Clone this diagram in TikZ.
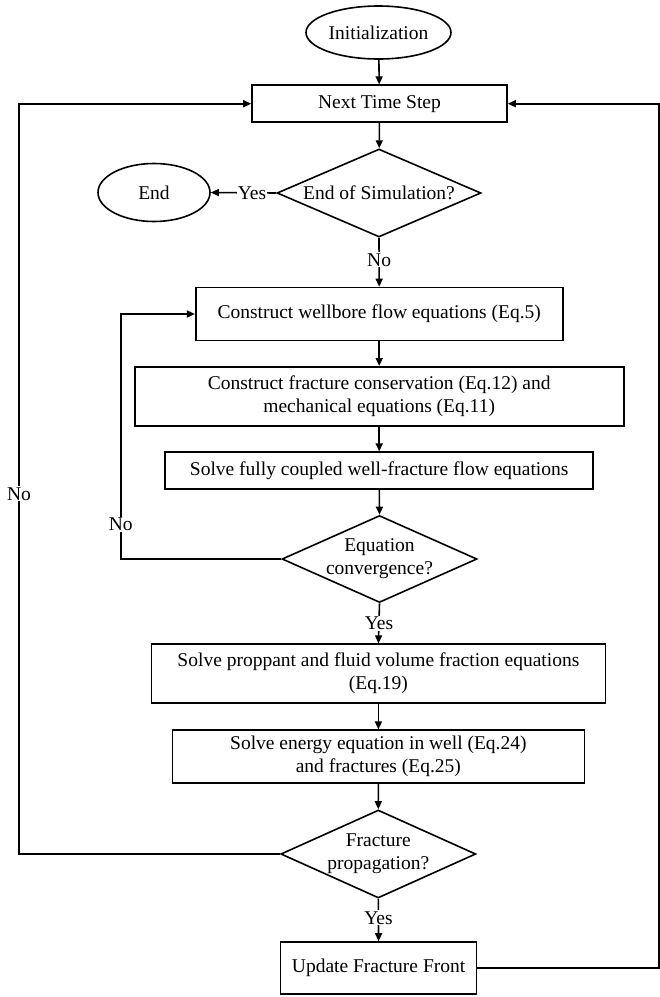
\documentclass[tikz,border=0pt]{standalone}
\usepackage{fontspec}
\setmainfont{Liberation Serif}
\usetikzlibrary{shapes.geometric,arrows.meta}
\begin{document}
\begin{tikzpicture}[x=1pt,y=-1pt,
  every node/.style={font=\fontsize{19.5}{23}\selectfont},
  box/.style={draw,line width=1.6pt,rectangle,inner sep=0pt,align=center},
  oval/.style={draw,line width=1.6pt,ellipse,inner sep=0pt,minimum width=145pt,minimum height=53pt},
  dia/.style={draw,line width=1.6pt,diamond,inner sep=0pt},
  lbl/.style={fill=white,inner sep=1pt},
  conn/.style={line width=1.6pt,-{Triangle[length=8pt,width=7pt]}}]
\useasboundingbox (0,0) rectangle (660,997);
\node[oval] (init) at (378.5,32.5) {Initialization};
\node[box,minimum width=255pt,minimum height=37pt] (nts) at (379.5,103.7) {Next Time Step};
\node[dia,minimum width=204pt,minimum height=88pt] (d1) at (379,193) {};
\node (d1t) at (379,193) {End of Simulation?};
\node[oval,minimum width=112pt,minimum height=58pt] (endE) at (154,192.5) {End};
\node[box,minimum width=367pt,minimum height=53pt] (wb) at (379.2,314) {Construct wellbore flow equations (Eq.5)};
\node[box,minimum width=489pt,minimum height=59pt] (fc) at (379.2,396.3) {Construct fracture conservation (Eq.12) and\\mechanical equations (Eq.11)};
\node[box,minimum width=428pt,minimum height=37pt] (sf) at (379.2,470.7) {Solve fully coupled well-fracture flow equations};
\node[dia,minimum width=195pt,minimum height=87pt] (d2) at (379.5,559) {};
\node[align=center] (d2t) at (379.5,559) {Equation\\convergence?};
\node[box,minimum width=454pt,minimum height=59pt] (pp) at (378.4,673.7) {Solve proppant and fluid volume fraction equations\\(Eq.19)};
\node[box,minimum width=412pt,minimum height=53pt] (en) at (378.4,756.7) {Solve energy equation in well (Eq.24)\\and fractures (Eq.25)};
\node[dia,minimum width=195pt,minimum height=88pt] (d3) at (378.3,854) {};
\node[align=center] (d3t) at (378.3,854) {Fracture\\propagation?};
\node[box,minimum width=196pt,minimum height=52pt] (uf) at (378.6,968) {Update Fracture Front};
\coordinate (l2a) at (120.8,559);
\coordinate (l2b) at (120.8,314);
\coordinate (l3a) at (19,854);
\coordinate (l3b) at (19,103.7);
\coordinate (r1a) at (659,968);
\coordinate (r1b) at (659,103.7);
\draw[conn] (init) -- (nts);
\draw[conn] (nts) -- (d1);
\draw[conn] (d1.west) -- node[lbl,pos=0.37] (y1) {Yes} (endE.east);
\draw[conn] (d1.south) -- node[lbl,pos=0.45] (n1) {No} (wb.north);
\draw[conn] (wb) -- (fc);
\draw[conn] (fc) -- (sf);
\draw[conn] (sf) -- (d2.north);
\draw[conn] (d2.west) -- (l2a) -- node[lbl,pos=0.14] (n2) {No} (l2b) -- (wb.west);
\draw[conn] (d2.south) -- node[lbl,pos=0.5] (y2) {Yes} (pp.north);
\draw[conn] (pp) -- (en);
\draw[conn] (en) -- (d3.north);
\draw[conn] (d3.west) -- (l3a) -- node[lbl,pos=0.48] (n3) {No} (l3b) -- (nts.west);
\draw[conn] (d3.south) -- node[lbl,pos=0.45] (y3) {Yes} (uf.north);
\draw[conn] (uf.east) -- (r1a) -- (r1b) -- (nts.east);
\end{tikzpicture}
\end{document}
